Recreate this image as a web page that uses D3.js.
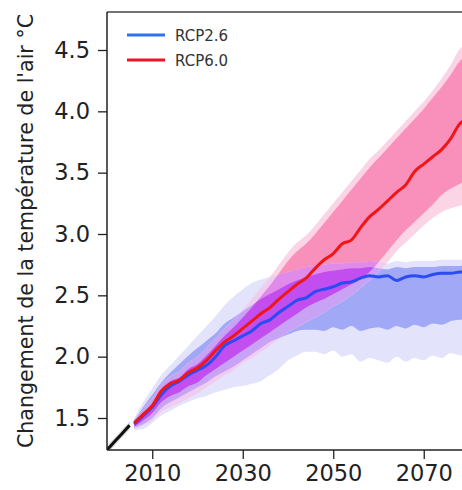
<!DOCTYPE html>
<html>
<head>
<meta charset="utf-8">
<script src="https://cdn.jsdelivr.net/npm/d3@7"></script>
<style>
  html, body { margin: 0; padding: 0; background: #fff; }
  svg { display: block; font-family: "DejaVu Sans", sans-serif; }
</style>
</head>
<body>
<svg id="chart" width="462" height="490"></svg>
<script>
// Observed period
const histYears = [2000, 2001, 2002, 2003, 2004, 2005];
const histMean  = [1.24, 1.28, 1.32, 1.36, 1.40, 1.44];

// Projection period (two-year steps)
const years = [2006, 2008, 2010, 2012, 2014, 2016, 2018, 2020, 2022, 2024,
               2026, 2028, 2030, 2032, 2034, 2036, 2038, 2040, 2042, 2044,
               2046, 2048, 2050, 2052, 2054, 2056, 2058, 2060, 2062, 2064,
               2066, 2068, 2070, 2072, 2074, 2076, 2078, 2080];

// RCP2.6: ensemble mean, inner range, outer range
const rcp26Mean    = [1.45, 1.52, 1.59, 1.69, 1.76, 1.80, 1.85, 1.89, 1.93, 2.00,
                      2.09, 2.13, 2.17, 2.21, 2.27, 2.30, 2.36, 2.41, 2.46, 2.48,
                      2.53, 2.55, 2.57, 2.60, 2.61, 2.64, 2.66, 2.65, 2.66, 2.62,
                      2.65, 2.66, 2.65, 2.67, 2.68, 2.68, 2.69, 2.69];
const rcp26InnerLo = [1.42, 1.45, 1.50, 1.58, 1.63, 1.67, 1.71, 1.75, 1.79, 1.84,
                      1.88, 1.92, 1.97, 2.02, 2.07, 2.12, 2.15, 2.18, 2.21, 2.22,
                      2.22, 2.21, 2.24, 2.22, 2.25, 2.21, 2.23, 2.24, 2.22, 2.25,
                      2.23, 2.26, 2.24, 2.27, 2.26, 2.29, 2.30, 2.31];
const rcp26InnerHi = [1.48, 1.59, 1.69, 1.79, 1.87, 1.94, 2.01, 2.07, 2.13, 2.19,
                      2.27, 2.32, 2.37, 2.42, 2.47, 2.51, 2.55, 2.59, 2.62, 2.65,
                      2.67, 2.69, 2.70, 2.71, 2.72, 2.72, 2.73, 2.72, 2.71, 2.73,
                      2.72, 2.73, 2.73, 2.73, 2.74, 2.74, 2.74, 2.75];
const rcp26OuterLo = [1.40, 1.41, 1.46, 1.52, 1.56, 1.60, 1.63, 1.66, 1.68, 1.71,
                      1.73, 1.75, 1.76, 1.78, 1.80, 1.85, 1.90, 1.97, 2.01, 2.04,
                      2.04, 2.02, 2.05, 2.00, 2.02, 1.96, 1.99, 1.97, 1.95, 2.00,
                      1.96, 1.99, 1.97, 2.01, 1.99, 2.03, 2.01, 2.02];
const rcp26OuterHi = [1.50, 1.63, 1.74, 1.85, 1.93, 2.01, 2.09, 2.17, 2.25, 2.33,
                      2.42, 2.49, 2.55, 2.60, 2.63, 2.65, 2.67, 2.69, 2.71, 2.73,
                      2.74, 2.75, 2.76, 2.76, 2.77, 2.77, 2.78, 2.77, 2.76, 2.78,
                      2.77, 2.78, 2.78, 2.78, 2.79, 2.79, 2.79, 2.80];

// RCP6.0: ensemble mean, inner range, outer range
const rcp60Mean    = [1.46, 1.53, 1.60, 1.72, 1.78, 1.81, 1.87, 1.91, 1.97, 2.05,
                      2.12, 2.17, 2.23, 2.29, 2.35, 2.40, 2.47, 2.53, 2.59, 2.64,
                      2.72, 2.79, 2.84, 2.92, 2.95, 3.05, 3.14, 3.20, 3.27, 3.34,
                      3.40, 3.51, 3.57, 3.63, 3.69, 3.78, 3.90, 3.94];
const rcp60InnerLo = [1.43, 1.48, 1.54, 1.63, 1.68, 1.71, 1.76, 1.79, 1.85, 1.90,
                      1.95, 2.00, 2.05, 2.10, 2.15, 2.20, 2.25, 2.30, 2.35, 2.40,
                      2.44, 2.47, 2.51, 2.55, 2.59, 2.63, 2.69, 2.77, 2.86, 2.95,
                      3.03, 3.10, 3.17, 3.24, 3.32, 3.37, 3.41, 3.44];
const rcp60InnerHi = [1.47, 1.54, 1.62, 1.73, 1.80, 1.83, 1.90, 1.94, 2.01, 2.09,
                      2.17, 2.24, 2.32, 2.40, 2.49, 2.58, 2.68, 2.78, 2.86, 2.92,
                      3.00, 3.09, 3.18, 3.27, 3.36, 3.45, 3.54, 3.62, 3.70, 3.78,
                      3.86, 3.94, 4.02, 4.11, 4.20, 4.30, 4.41, 4.45];
const rcp60OuterLo = [1.41, 1.44, 1.48, 1.55, 1.59, 1.62, 1.66, 1.70, 1.75, 1.80,
                      1.85, 1.89, 1.95, 1.99, 2.04, 2.09, 2.15, 2.20, 2.24, 2.28,
                      2.32, 2.36, 2.41, 2.45, 2.50, 2.56, 2.62, 2.69, 2.77, 2.86,
                      2.93, 3.00, 3.07, 3.13, 3.18, 3.21, 3.23, 3.25];
const rcp60OuterHi = [1.49, 1.57, 1.66, 1.77, 1.84, 1.88, 1.95, 2.00, 2.07, 2.15,
                      2.23, 2.30, 2.38, 2.47, 2.56, 2.65, 2.75, 2.85, 2.93, 2.99,
                      3.07, 3.16, 3.25, 3.34, 3.43, 3.52, 3.61, 3.68, 3.76, 3.84,
                      3.92, 4.00, 4.08, 4.17, 4.27, 4.38, 4.51, 4.55];

const xTicks = [2010, 2030, 2050, 2070];
const yTicks = [1.5, 2.0, 2.5, 3.0, 3.5, 4.0, 4.5];
const seriesNames = ["RCP2.6", "RCP6.0"];
const yLabel = "Changement de la température de l'air °C";

const svg = d3.select("#chart");
const W = 462;
const plotLeft = 107, plotTop = 12, plotBottom = 450;

const x = d3.scaleLinear().domain([2000, 2080]).range([plotLeft, plotLeft + 80 * 4.525]);
const y = d3.scaleLinear().domain([1.5, 4.5]).range([418, 50]);

const defs = svg.append("defs");
defs.append("clipPath").attr("id", "plotClip")
  .append("rect").attr("x", plotLeft).attr("y", plotTop)
  .attr("width", W - plotLeft).attr("height", plotBottom - plotTop);

const rows = years.map((yr, i) => ({
  yr,
  m26: rcp26Mean[i], il26: rcp26InnerLo[i], ih26: rcp26InnerHi[i], ol26: rcp26OuterLo[i], oh26: rcp26OuterHi[i],
  m60: rcp60Mean[i], il60: rcp60InnerLo[i], ih60: rcp60InnerHi[i], ol60: rcp60OuterLo[i], oh60: rcp60OuterHi[i]
}));

const band = (lo, hi) => d3.area().x(d => x(d.yr)).y0(d => y(d[lo])).y1(d => y(d[hi])).curve(d3.curveMonotoneX);
const line = key => d3.line().x(d => x(d.yr)).y(d => y(d[key])).curve(d3.curveMonotoneX);

defs.append("clipPath").attr("id", "clipB26o").append("path").attr("d", band("ol26", "oh26")(rows));
defs.append("clipPath").attr("id", "clipB26i").append("path").attr("d", band("il26", "ih26")(rows));

const g = svg.append("g").attr("clip-path", "url(#plotClip)");

// Observed record
const hist = histYears.map((yr, i) => ({ yr, v: histMean[i] }));
g.append("path")
  .attr("d", d3.area().x(d => x(d.yr)).y0(d => y(d.v - 0.03)).y1(d => y(d.v + 0.03))(hist))
  .attr("fill", "#cfd3d2");

// RCP2.6 ranges
g.append("path").attr("d", band("ol26", "oh26")(rows)).attr("fill", "#e3e4fb");
g.append("path").attr("d", band("il26", "ih26")(rows)).attr("fill", "#a1a8f6");

// RCP6.0 ranges
g.append("path").attr("d", band("ol60", "oh60")(rows)).attr("fill", "#fbd4e5");
g.append("path").attr("d", band("il60", "ih60")(rows)).attr("fill", "#f98fbb");

// Where the two scenarios overlap
const ovO = g.append("g").attr("clip-path", "url(#clipB26o)");
ovO.append("path").attr("d", band("ol60", "oh60")(rows)).attr("fill", "#efcdf1");
ovO.append("path").attr("d", band("il60", "ih60")(rows)).attr("fill", "#e08ae9");
const ovI = g.append("g").attr("clip-path", "url(#clipB26i)");
ovI.append("path").attr("d", band("ol60", "oh60")(rows)).attr("fill", "#c8a2f4");
ovI.append("path").attr("d", band("il60", "ih60")(rows)).attr("fill", "#c24ef0");

// Ensemble means
g.append("path").attr("d", d3.line().x(d => x(d.yr)).y(d => y(d.v))(hist))
  .attr("fill", "none").attr("stroke", "#111").attr("stroke-width", 3);
g.append("path").attr("d", line("m26")(rows))
  .attr("fill", "none").attr("stroke", "#2a4cf2").attr("stroke-width", 3).attr("stroke-linejoin", "round");
g.append("path").attr("d", line("m60")(rows))
  .attr("fill", "none").attr("stroke", "#f01616").attr("stroke-width", 3).attr("stroke-linejoin", "round");

// Frame
svg.append("line").attr("x1", plotLeft).attr("x2", W).attr("y1", plotTop).attr("y2", plotTop)
  .attr("stroke", "#444").attr("stroke-width", 1.5);

const yAxis = d3.axisLeft(y).tickValues(yTicks).tickFormat(d3.format(".1f")).tickSize(9).tickPadding(8);
const ya = svg.append("g").attr("transform", `translate(${plotLeft},0)`).call(yAxis);
ya.select(".domain").attr("d", `M0,${plotTop}V${plotBottom}`);

const xAxis = d3.axisBottom(x).tickValues(xTicks).tickFormat(d3.format("d")).tickSize(9).tickPadding(6);
const xa = svg.append("g").attr("transform", `translate(0,${plotBottom})`).call(xAxis);
xa.select(".domain").attr("d", `M${plotLeft},0H${W}`);

svg.selectAll(".domain").attr("stroke", "#222").attr("stroke-width", 1.5);
svg.selectAll(".tick line").attr("stroke", "#222").attr("stroke-width", 1.3);
svg.selectAll(".tick text").attr("font-size", 22.5).attr("fill", "#222")
  .attr("font-family", "DejaVu Sans, sans-serif");

// Axis title
svg.append("text")
  .attr("transform", `translate(33,${(plotTop + plotBottom) / 2}) rotate(-90)`)
  .attr("text-anchor", "middle")
  .attr("font-size", 20.6).attr("fill", "#222")
  .text(yLabel);

// Legend
const legendColors = ["#2b74ee", "#ec1428"];
const lg = svg.append("g");
seriesNames.forEach((name, i) => {
  const ly = 35 + i * 25;
  lg.append("line").attr("x1", 127).attr("x2", 165).attr("y1", ly).attr("y2", ly)
    .attr("stroke", legendColors[i]).attr("stroke-width", 3);
  lg.append("text").attr("x", 175).attr("y", ly + 5.5).attr("font-size", 15).attr("fill", "#333").text(name);
});
</script>
</body>
</html>
